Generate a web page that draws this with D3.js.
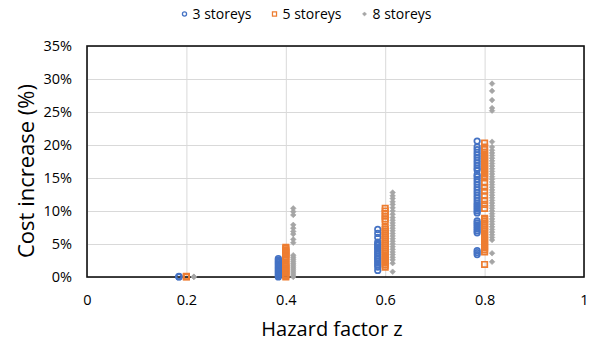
<!DOCTYPE html>
<html>
<head>
<meta charset="utf-8">
<script src="https://cdn.jsdelivr.net/npm/d3@7"></script>
<style>
  body { margin: 0; background: #fff; }
  svg { display: block; font-family: "Open Sans", sans-serif; }
</style>
</head>
<body>
<svg id="chart" width="591" height="343"></svg>
<script>
// data (cost increase in %)
var zLevels = [0.2, 0.4, 0.6, 0.8];
var seriesNames = ["3 storeys", "5 storeys", "8 storeys"];
var xTicks = [0, 0.2, 0.4, 0.6, 0.8, 1];
var yTicks = [0, 5, 10, 15, 20, 25, 30, 35];

// one array per z level, same order as zLevels
var storeys3 = [
  [0, 0.05, 0.1],
  [0, 0.2, 0.4, 0.6, 0.8, 1.0, 1.2, 1.4, 1.6, 1.8, 2.0, 2.2, 2.4, 2.6, 2.8],
  [1.0, 1.5, 1.8, 2.1, 2.4, 2.7, 2.9, 3.2, 3.5, 3.7, 4.0, 4.3, 4.5, 4.8, 5.0, 5.3, 6.0, 6.6, 7.2],
  [3.4, 3.7, 4.0, 6.7, 7.0, 7.3, 7.6, 7.9, 8.2, 8.5, 9.7, 10.0, 10.3, 10.6, 10.9, 11.2, 11.6,
   12.0, 12.4, 12.8, 13.2, 13.6, 14.0, 14.4, 14.8, 15.2, 15.5, 16.2, 16.5, 16.9, 17.3, 17.7,
   18.1, 18.5, 18.9, 19.3, 19.7, 20.6]
];
var storeys5 = [
  [0, 0.05, 0.1],
  [0, 0.2, 0.4, 0.6, 0.8, 1.0, 1.2, 1.4, 1.6, 1.8, 2.0, 2.2, 2.7, 2.9, 3.1, 3.3, 3.5, 3.7, 3.9, 4.1, 4.3, 4.5],
  [1.5, 1.8, 2.1, 2.4, 2.7, 3.0, 3.3, 3.6, 3.9, 4.2, 4.5, 4.8, 5.1, 5.4, 5.7, 6.0, 6.3, 6.6, 6.9, 7.2, 7.5,
   8.5, 8.8, 9.2, 9.6, 10.0, 10.4],
  [1.9, 3.8, 4.1, 4.4, 4.7, 5.0, 5.3, 5.6, 5.9, 6.2, 6.5, 6.9, 7.2, 7.5, 7.8, 8.1, 8.4, 8.7, 8.9,
   10.4, 11.0, 11.6, 12.3, 13.0, 13.6, 14.3, 15.0, 15.3, 15.6, 15.9, 16.2, 16.5, 16.8, 17.1, 17.4,
   17.7, 18.0, 18.3, 18.6, 18.9, 19.3, 19.7, 20.3]
];
var storeys8 = [
  [0, 0.05],
  [0, 0.3, 0.6, 0.9, 1.2, 1.5, 1.8, 2.1, 2.4, 2.7, 3.0, 3.3, 5.2, 5.7, 6.5, 6.9, 7.4, 7.9, 9.4, 9.9, 10.4],
  [0.8, 2.1, 2.6, 3.0, 3.4, 3.8, 4.2, 4.6, 5.0, 5.4, 5.8, 6.2, 6.6, 7.0, 7.4, 7.8, 8.2, 8.6, 9.0,
   9.5, 10.0, 10.5, 11.0, 11.4, 11.9, 12.3, 12.8],
  [2.3, 3.6, 5.6, 6.0, 6.4, 6.8, 7.2, 7.6, 8.0, 8.4, 8.8, 9.2, 9.6, 10.0, 10.4, 10.8, 11.2, 11.6,
   12.0, 12.4, 12.8, 13.2, 13.6, 14.0, 14.4, 14.8, 15.2, 15.6, 16.0, 16.4, 16.8, 17.2, 17.6, 18.0,
   18.4, 18.8, 19.2, 19.7, 20.5, 25.2, 25.6, 26.8, 28.2, 29.3]
];

var svg = d3.select("#chart"),
    m = {left: 87, right: 584, top: 46, bottom: 277},
    colors = ["#4472C4", "#ED7D31", "#A5A5A5"],
    // small sideways shift so the three series sit next to each other
    shift = [-0.015, 0, 0.015];

var x = d3.scaleLinear().domain([0, 1]).range([m.left, m.right]);
var y = d3.scaleLinear().domain([0, 35]).range([m.bottom, m.top]);

// gridlines
var gx = svg.append("g")
    .attr("transform", "translate(0," + m.bottom + ")")
    .call(d3.axisBottom(x).tickValues(xTicks).tickSize(-(m.bottom - m.top)).tickFormat(d3.format("")));
gx.select(".domain").remove();
gx.selectAll("line").attr("stroke", "#D9D9D9");
gx.selectAll("text").attr("dy", null).attr("y", 28)
    .attr("font-size", 14.5).attr("fill", "#000").attr("font-family", "Open Sans");

var gy = svg.append("g")
    .attr("transform", "translate(" + m.left + ",0)")
    .call(d3.axisLeft(y).tickValues(yTicks).tickSize(-(m.right - m.left)).tickFormat(function(d) { return d + "%"; }));
gy.select(".domain").remove();
gy.selectAll("line").attr("stroke", "#D9D9D9");
gy.selectAll("text").attr("x", -15)
    .attr("font-size", 14.5).attr("fill", "#000").attr("font-family", "Open Sans");

// plot frame
svg.append("rect")
    .attr("x", m.left).attr("y", m.top)
    .attr("width", m.right - m.left).attr("height", m.bottom - m.top)
    .attr("fill", "none").attr("stroke", "#111").attr("stroke-width", 1.6);

// markers
var circle = d3.symbol().type(d3.symbolCircle).size(24)(),
    square = "M-2.7,-2.7H2.7V2.7H-2.7Z",
    diamond = "M0,-2.8L2.8,0L0,2.8L-2.8,0Z";
var shapes = [circle, square, diamond];

function drawMarker(sel, i) {
  sel.attr("d", shapes[i]);
  if (i < 2) sel.attr("fill", "none").attr("stroke", colors[i]).attr("stroke-width", 1.7);
  else sel.attr("fill", colors[i]).attr("stroke", colors[i]).attr("stroke-width", 0.6);
}

[storeys3, storeys5, storeys8].forEach(function(series, i) {
  var pts = [];
  series.forEach(function(vals, k) {
    vals.forEach(function(v) { pts.push({z: zLevels[k], v: v}); });
  });
  svg.append("g").selectAll("path").data(pts).enter().append("path")
      .attr("transform", function(d) { return "translate(" + x(d.z + shift[i]) + "," + y(d.v) + ")"; })
      .call(drawMarker, i);
});

// legend
var leg = svg.append("g");
var lx = 0;
seriesNames.forEach(function(name, i) {
  var g = leg.append("g").attr("transform", "translate(" + lx + ",0)");
  g.append("path").call(drawMarker, i)
      .attr("transform", "translate(0,14) scale(0.75)");
  var t = g.append("text").attr("x", 8).attr("y", 19)
      .attr("font-size", 14).text(name);
  lx += 8 + t.node().getComputedTextLength() + 23;
});
leg.attr("transform", "translate(" + (308 - (lx - 23) / 2) + ",0)");

// axis titles
svg.append("text").attr("x", 332).attr("y", 336)
    .attr("text-anchor", "middle").attr("font-size", 20).text("Hazard factor z");
svg.append("text").attr("transform", "translate(34,171) rotate(-90)")
    .attr("text-anchor", "middle").attr("font-size", 22).text("Cost increase (%)");
</script>
</body>
</html>
